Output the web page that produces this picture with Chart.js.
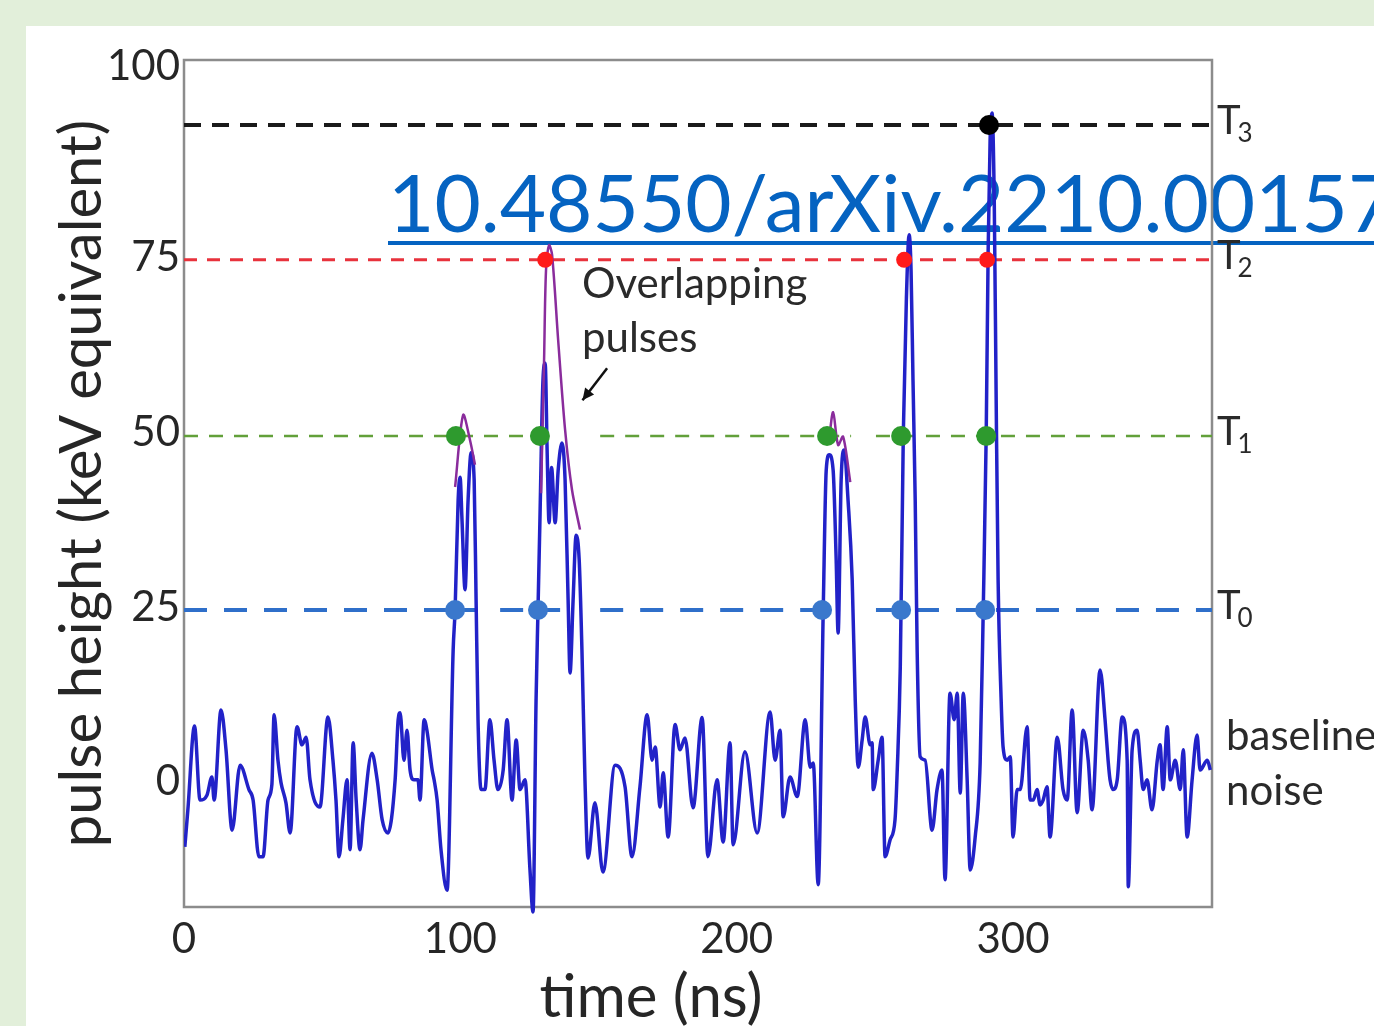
<!DOCTYPE html>
<html><head><meta charset="utf-8">
<script src="https://cdn.jsdelivr.net/npm/chart.js@4.4.0/dist/chart.umd.min.js"></script>
<style>
html,body{margin:0;padding:0;width:1374px;height:1026px;overflow:hidden;background:#e2efda;}
#panel{position:absolute;left:26px;top:26px;width:1348px;height:1000px;background:#ffffff;}
#doi{position:absolute;left:388px;top:153px;font-family:Lato,sans-serif;font-size:80px;line-height:1.2;color:#0563c1;white-space:nowrap;text-decoration:underline;text-decoration-thickness:4px;text-underline-offset:9px;}
#wrap{position:absolute;left:0;top:0;width:1374px;height:1026px;}
</style></head><body>
<div id="panel"></div>
<div id="doi">10.48550/arXiv.2210.00157</div>
<div id="wrap"><canvas id="c" width="1374" height="1026"></canvas></div>
<script>
// ---- data (time in ns, pulse height in keV equivalent) ----
const timeNs = [
 0.3,1.4,3.8,5.8,8.3,10.1,10.9,13.4,15.2,17.4,20.3,23.5,25.0,27.1,28.6,30.4,31.8,32.6,34.0,35.1,36.9,38.4,40.9,42.7,44.2,45.6,49.2,52.1,53.9,55.0,56.1,57.5,59.0,60.1,61.2,62.3,63.7,64.8,68.0,69.9,71.7,73.8,76.4,77.5,78.2,79.6,80.7,81.8,83.2,84.7,85.4,86.9,87.9,89.8,90.5,91.6,93.0,95.2,
 97.4,98.1,99.2,99.9,100.6,101.7,102.8,103.9,105.0,105.7,106.4,107.5,108.9,110.7,112.2,113.6,115.5,116.9,118.7,120.2,121.6,123.4,125.2,126.3,127.4,128.1,128.8,129.9,130.7,131.4,132.1,133.0,134.3,135.4,136.8,137.9,139.0,139.7,140.8,141.9,143.0,144.0,145.1,146.2,
 148.7,151.6,156.0,159.6,162.1,165.0,167.6,169.4,170.5,172.3,173.4,175.2,177.7,179.5,181.3,184.2,187.5,189.6,192.9,195.1,197.6,198.7,203.0,207.4,212.1,213.9,215.7,216.8,219.3,221.9,224.8,226.6,227.7,229.5,
 231.3,232.4,233.5,234.9,236.0,236.7,237.8,238.9,240.3,241.8,242.9,244.0,245.4,246.5,248.3,249.0,249.4,251.2,252.6,253.7,255.5,257.3,258.1,259.2,260.3,261.4,262.4,263.1,263.8,264.6,265.3,266.4,268.2,270.7,272.5,274.3,275.4,277.2,278.7,279.8,280.9,282.0,283.4,284.5,286.3,288.1,
 289.2,290.3,291.0,291.7,292.4,293.2,293.9,294.6,295.7,296.4,297.9,299.0,300.0,301.5,302.6,305.1,306.2,307.3,308.7,309.8,310.9,312.3,313.4,316.0,318.1,319.6,321.4,323.2,325.4,327.2,328.6,331.5,333.3,334.4,335.1,336.2,337.7,339.5,341.3,341.7,343.1,344.9,346.0,347.1,348.5,350.3,352.2,353.2,354.3,355.8,356.9,358.7,360.5,361.6,363.0,364.8,366.6,367.7,370.3,371.4
];
const pulseKeV = [
 -9.3,-4.0,8.0,-2.6,-1.9,0.7,-2.6,10.3,4.6,-6.9,2.4,-1.1,-2.6,-10.7,-10.7,-2.6,-0.4,9.6,3.1,-0.1,-3.0,-7.3,7.9,5.3,6.4,0.3,-3.6,9.3,3.1,-2.6,-10.7,-5.4,0.3,-9.7,5.6,-2.6,-9.7,-5.4,4.1,0.3,-5.4,-7.3,0.3,8.9,9.9,3.1,7.4,1.7,0.3,0.3,-2.6,8.9,7.4,1.7,0.3,-2.6,-9.7,-15.5,
 18.9,24.6,40.3,43.6,37.5,27.5,40.3,47.1,43.2,26.0,8.9,-1.1,-1.1,8.9,3.1,-1.1,1.7,8.9,-2.6,6.0,-1.1,0.3,-12.6,-18.6,11.7,24.6,37.5,57.5,59.9,47.5,37.1,45.0,37.1,44.6,48.5,43.2,26.0,15.6,26.0,35.3,31.8,18.9,0.3,-10.9,
 -3.0,-12.9,2.4,-0.7,-10.7,-0.7,9.6,3.1,5.0,-3.6,1.3,-7.9,8.2,4.6,6.3,-3.7,9.2,-10.7,0.3,-8.6,5.6,-9.0,4.3,-7.3,10.0,3.1,7.4,-5.0,0.7,-2.1,8.9,2.1,2.7,-14.7,
 24.2,44.6,46.8,44.6,31.8,21.3,43.2,47.5,40.3,28.9,11.7,2.1,6.0,9.3,5.3,5.6,-1.1,3.1,6.4,-10.7,-8.3,-5.4,1.7,16.5,49.9,69.0,78.3,73.2,57.5,40.3,18.9,3.6,3.1,-6.9,-1.1,1.7,-14.0,12.7,8.9,12.7,-1.6,12.7,0.3,-12.6,-7.9,2.7,
 24.2,49.9,76.1,91.8,95.7,83.3,54.6,28.9,11.7,5.0,3.1,3.6,-7.9,-1.1,-1.1,7.9,-2.6,-2.6,-1.1,-3.3,-2.6,-0.7,-7.9,6.4,-1.1,-2.6,10.3,-4.4,7.4,3.1,-4.0,16.0,8.9,3.1,0.3,-1.1,0.3,9.3,3.1,-15.0,4.6,7.4,3.1,-1.1,0.3,-4.0,3.1,5.3,-1.1,7.9,0.3,3.1,-1.1,4.6,-7.9,0.3,6.7,1.7,3.1,1.7
];
// fitted (overlapping) pulse shapes
const fit1Time = [98.1,101.0,103.5,105.3];
const fit1KeV  = [42.2,52.5,48.9,45.4];
const fit2Time = [129.2,130.3,131.0,132.1,133.2,135.4,137.9,140.4,143.3];
const fit2KeV  = [41.3,60.4,73.2,76.8,75.4,63.2,50.4,41.8,36.1];
const fit3Time = [233.4,234.9,236.7,238.5,241.1];
const fit3KeV  = [48.9,52.9,48.2,49.4,42.9];
// thresholds T0..T3
const thresholdNames = ['T0','T1','T2','T3'];
const thresholdKeV = [24.6,49.5,74.7,94.0];
// gaps (ns) where the dashed threshold lines are interrupted
const thresholdGapsNs = [
  [[105.3,114.4],[136.1,150.6],[237.4,250.4]],
  [[135.4,150.6],[241.4,250.4]],
  [],
  []
];
const t0CrossTime = [98.1,128.1,230.9,259.5,289.9];
const t1CrossTime = [98.4,128.8,232.7,259.5,290.3];
const t2CrossTime = [130.7,260.6,290.6];
const t3CrossTime = [291.3];
// axes
const xTickValues = [0,100,200,300];
const yTickValues = [0,25,50,75,100];
const yTickLabels = ['0','25','50','75','100'];
const xRange = [0,372];
const yRange = [-17.9,103.3];

const n = Math.min(timeNs.length, pulseKeV.length);
const tracePts = [];
for (let i=0;i<n;i++) tracePts.push({x:timeNs[i], y:pulseKeV[i]});
const toPts = (ts, vs) => ts.map((t,i)=>({x:t,y:vs[i]}));
const atLevel = (ts, v) => ts.map(t=>({x:t,y:v}));
function levelWithGaps(v, gaps){
  const pts=[{x:xRange[0],y:v}];
  gaps.forEach(g=>{ pts.push({x:g[0],y:v}); pts.push({x:(g[0]+g[1])/2,y:null}); pts.push({x:g[1],y:v}); });
  pts.push({x:xRange[1],y:v});
  return pts;
}

const threshStyles = [
  {color:'#2f6fca', width:4, dash:[23,17]},
  {color:'#62a03a', width:2.5, dash:[14,11]},
  {color:'#e8323c', width:3, dash:[13,10]},
  {color:'#1a1a1a', width:4, dash:[17,11]}
];

const datasets = [];
thresholdKeV.forEach((v,i)=>{
  datasets.push({label:thresholdNames[i], data:levelWithGaps(v, thresholdGapsNs[i]), spanGaps:false,
    borderColor:threshStyles[i].color, borderWidth:threshStyles[i].width, borderDash:threshStyles[i].dash,
    pointRadius:0, order:10});
});
datasets.push({label:'pulse', data:tracePts, borderColor:'#2222c8', borderWidth:3.5, pointRadius:0,
  cubicInterpolationMode:'monotone', borderJoinStyle:'round', order:5, clip:{left:0,top:0,right:0,bottom:8}});
[[fit1Time,fit1KeV],[fit2Time,fit2KeV],[fit3Time,fit3KeV]].forEach((f,i)=>{
  datasets.push({label:'fit'+i, data:toPts(f[0],f[1]), borderColor:'#8a2c9c', borderWidth:2.5,
    pointRadius:0, tension:0.3, order:4});
});
const dotSets = [
  [t0CrossTime, thresholdKeV[0], '#3a78cc', 10],
  [t1CrossTime, thresholdKeV[1], '#2e9a2e', 10],
  [t2CrossTime, thresholdKeV[2], '#ff1a1a', 8],
  [t3CrossTime, thresholdKeV[3], '#000000', 10]
];
dotSets.forEach((d,i)=>{
  datasets.push({label:'cross'+i, data:atLevel(d[0],d[1]), showLine:false, pointRadius:d[3],
    pointBackgroundColor:d[2], pointBorderColor:d[2], pointBorderWidth:0, order:1});
});

const framePlugin = {
  id:'frame',
  beforeDatasetsDraw(chart){
    const {ctx, chartArea:a} = chart;
    ctx.save(); ctx.strokeStyle='#8c8c8c'; ctx.lineWidth=2.5;
    ctx.strokeRect(a.left, a.top, a.right-a.left, a.bottom-a.top);
    ctx.restore();
  }
};
const annotPlugin = {
  id:'annot',
  afterDraw(chart){
    const {ctx, chartArea:a, scales:{x,y}} = chart;
    ctx.save();
    ctx.fillStyle='#2a2a2a'; ctx.textAlign='left'; ctx.textBaseline='alphabetic';
    thresholdKeV.forEach((v,i)=>{
      const py = y.getPixelForValue(v);
      ctx.font='40px Lato';
      ctx.fillText('T', a.right+5, py+9);
      const w = ctx.measureText('T').width;
      ctx.font='26px Lato';
      ctx.fillText(String(i), a.right+5+w-3, py+17);
    });
    ctx.font='42px Lato';
    ctx.fillText('Overlapping', x.getPixelForValue(144.0), y.getPixelForValue(69.2));
    ctx.fillText('pulses', x.getPixelForValue(144.0), y.getPixelForValue(61.5));
    ctx.fillText('baseline', a.right+14, y.getPixelForValue(4.6));
    ctx.fillText('noise', a.right+14, y.getPixelForValue(-3.3));
    // x axis title (sits left of the plot centre in the original)
    ctx.font='60px Lato'; ctx.fillStyle='#262626'; ctx.textAlign='center';
    ctx.fillText('time (ns)', x.getPixelForValue(169), a.bottom+110);
    // arrow
    const x1=x.getPixelForValue(153.1), y1=y.getPixelForValue(59.2);
    const x2=x.getPixelForValue(144.2), y2=y.getPixelForValue(54.6);
    ctx.strokeStyle='#111'; ctx.lineWidth=2.5;
    ctx.beginPath(); ctx.moveTo(x1,y1); ctx.lineTo(x2,y2); ctx.stroke();
    const ang=Math.atan2(y2-y1,x2-x1), L=13;
    ctx.beginPath(); ctx.moveTo(x2,y2);
    ctx.lineTo(x2-L*Math.cos(ang-0.45), y2-L*Math.sin(ang-0.45));
    ctx.lineTo(x2-L*Math.cos(ang+0.45), y2-L*Math.sin(ang+0.45));
    ctx.closePath(); ctx.fillStyle='#111'; ctx.fill();
    ctx.restore();
  }
};

new Chart(document.getElementById('c'), {
  type:'line',
  data:{datasets},
  options:{
    responsive:false, animation:false, events:[],
    layout:{padding:{top:60,right:162,bottom:0,left:0}},
    plugins:{legend:{display:false}, tooltip:{enabled:false}},
    scales:{
      x:{type:'linear', min:xRange[0], max:xRange[1],
        grid:{display:false, drawTicks:false}, border:{display:false},
        afterBuildTicks:(s)=>{s.ticks = xTickValues.map(v=>({value:v}));},
        afterFit:(s)=>{s.height=119;},
        ticks:{font:{family:'Lato',size:42}, color:'#262626', padding:7, maxRotation:0}
      },
      y:{type:'linear', min:yRange[0], max:yRange[1],
        grid:{display:false, drawTicks:false}, border:{display:false},
        afterBuildTicks:(s)=>{s.ticks = yTickValues.map((v,i)=>({value: i===yTickValues.length-1 ? s.max-0.9 : v}));},
        afterFit:(s)=>{s.width=184;},
        ticks:{font:{family:'Lato',size:42}, color:'#262626', padding:4,
          callback:(v,i)=>yTickLabels[i]},
        title:{display:true, text:'pulse height (keV equivalent)', font:{family:'Lato',size:58}, color:'#262626', padding:{top:47,bottom:0}}
      }
    }
  },
  plugins:[framePlugin, annotPlugin]
});
</script>
</body></html>
